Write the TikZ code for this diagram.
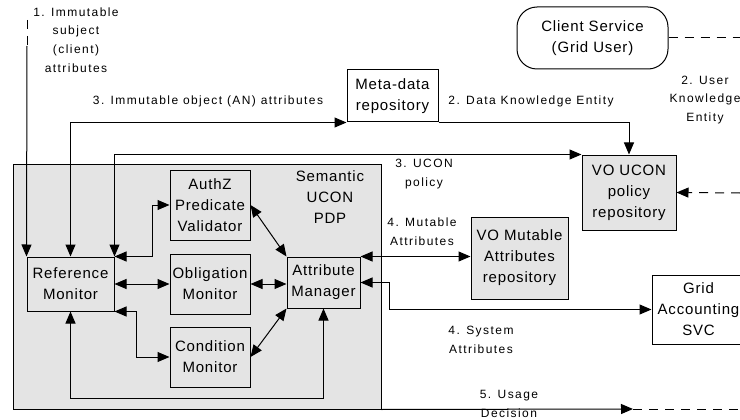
\documentclass[tikz,border=0pt]{standalone}
\usepackage{fontspec}
\setmainfont{Liberation Sans}
\newfontfamily\lblfont[LetterSpace=12]{Liberation Sans}
\newfontfamily\boxfont[LetterSpace=5.5]{Liberation Sans}
\usetikzlibrary{arrows.meta,calc}
\definecolor{pdpgray}{RGB}{228,228,228}
\begin{document}
\begin{tikzpicture}[x=1pt,y=-1pt, line width=1pt,
 >={Triangle[length=12pt,width=10pt]},
 blk/.style={draw, inner sep=0pt, align=center, font=\boxfont\fontsize{15}{21}\selectfont},
 gbox/.style={blk, fill=pdpgray},
 btxt/.style={inner sep=0pt, align=center, font=\boxfont\fontsize{15}{21}\selectfont},
 lbl/.style={inner sep=0pt, align=center, font=\lblfont\fontsize{12}{18.7}\selectfont},
 dsh/.style={dash pattern=on 9pt off 7pt}]
\useasboundingbox (0,0) rectangle (740,420);
\clip (0,0) rectangle (740,420);

% containers and boxes
\node[draw, fill=pdpgray, minimum width=368pt, minimum height=245pt, inner sep=0pt] (pdp) at (197,286.5) {};
\node[btxt] (pdptxt) at (330,197) {Semantic\\UCON\\PDP};
\node[blk, minimum width=87pt, minimum height=54pt] (ref) at (70.5,284) {Reference\\Monitor};
\node[blk, minimum width=80pt, minimum height=70pt] (authz) at (210,205) {AuthZ\\Predicate\\Validator};
\node[blk, minimum width=80pt, minimum height=60pt] (oblig) at (210,284) {Obligation\\Monitor};
\node[blk, minimum width=80pt, minimum height=60pt] (cond) at (210,357) {Condition\\Monitor};
\node[blk, minimum width=73pt, minimum height=51pt] (attr) at (323.5,282.5) {Attribute\\Manager};
\node[blk, fill=white, minimum width=91pt, minimum height=52pt] (meta) at (392.5,96) {Meta-data\\repository};
\node[blk, rounded corners=20pt, minimum width=151pt, minimum height=62pt] (client) at (592.5,38) {Client Service\\(Grid User)};
\node[gbox, minimum width=94pt, minimum height=75pt] (vopol) at (629,192.5) {VO UCON\\policy\\repository};
\node[gbox, minimum width=97pt, minimum height=82pt] (vomut) at (519.5,258) {VO Mutable\\Attributes\\repository};
\node[blk, minimum width=93pt, minimum height=69pt] (grid) at (698.5,309.5) {Grid\\Accounting\\SVC};

% free ends
\coordinate (subjtop) at (27,20);
\coordinate (subjmid) at (27,46);
\coordinate (clientend) at (740,38);
\coordinate (userstart) at (740,193);
\coordinate (udtip) at (633,409);
\coordinate (udend) at (740,409);

% labels
\node[lbl] (l1) at (76,40) {1. Immutable\\subject\\(client)\\attributes};
\node[lbl] (l3a) at (208,101) {3. Immutable object (AN) attributes};
\node[lbl] (l2a) at (531,101) {2. Data Knowledge Entity};
\node[lbl] (l2b) at (705,100) {2. User\\Knowledge\\Entity};
\node[lbl] (l3b) at (424,174) {3. UCON\\policy};
\node[lbl] (l4a) at (422,232) {4. Mutable\\Attributes};
\node[lbl] (l4b) at (481,340) {4. System\\Attributes};
\node[lbl] (l5) at (509,404) {5. Usage\\Decision};

% connectors
\draw[dsh] (subjtop) -- (subjmid);
\draw[->] (subjmid) -- (ref.north west);
\draw[<->] (ref.north) |- (meta.south west);
\draw[<->] (ref.north east) |- (vopol.north west);
\draw[<->] (ref.north east) -| ([xshift=-17pt]authz.west) -- (authz.west);
\draw[<->] (ref.east) -- (oblig.west);
\draw[<->] (oblig.east) -- (oblig.east -| attr.west);
\draw[<->] (authz.east) -- (attr.north west);
\draw[<->] (cond.east) -- (attr.south west);
\draw[<->] (ref.south east) -| ([xshift=-33pt]cond.west) -- (cond.west);
\draw[<->] (ref.south) |- ([yshift=-90pt]attr.south) -- (attr.south);
\draw[<->] (attr.north east) -- (vomut.west |- attr.north east);
\draw[<->] (attr.east) -| ([xshift=-262pt]grid.west) -- (grid.west);
\draw[->] (meta.south east) -| (vopol.north);
\draw[dsh] (client.east) -- (clientend);
\draw[dsh,->] (userstart) -- (vopol.east);
\draw[->] (pdp.south east) -- (udtip);
\draw[dsh] (udtip) -- (udend);
\end{tikzpicture}
\end{document}
